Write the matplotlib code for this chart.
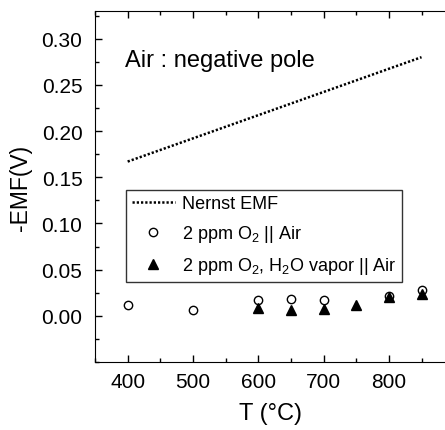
import matplotlib
matplotlib.use("Agg")
import matplotlib.pyplot as plt
from matplotlib.ticker import MultipleLocator

plt.rcParams['font.family'] = ['Liberation Sans', 'DejaVu Sans']
plt.rcParams['mathtext.fontset'] = 'custom'
plt.rcParams['mathtext.rm'] = 'Liberation Sans'

# Nernst EMF line
nernst_T = [400, 850]
nernst_emf = [0.167, 0.280]

# 2 ppm O2 || Air
dry_T = [400, 500, 600, 650, 700, 800, 850]
dry_emf = [0.012, 0.0065, 0.017, 0.018, 0.017, 0.021, 0.028]

# 2 ppm O2, H2O vapor || Air
wet_T = [600, 650, 700, 750, 800, 850]
wet_emf = [0.0085, 0.006, 0.007, 0.012, 0.020, 0.024]

yticks = [0.00, 0.05, 0.10, 0.15, 0.20, 0.25, 0.30]
xticks = [400, 500, 600, 700, 800]

W, H = 445, 431
fig = plt.figure(figsize=(W / 100, H / 100), dpi=100)
ax = fig.add_axes([95 / W, (H - 363) / H, (W - 95) / W + 0.003, (363 - 12) / H])

ax.plot(nernst_T, nernst_emf, ls=(0, (0.9, 0.8)), color='black', lw=1.8,
        dash_capstyle='butt', label='Nernst EMF')
ax.plot(dry_T, dry_emf, 'o', mfc='white', mec='black', mew=1.0, ms=6,
        ls='none', label=r'2 ppm O$_2$ || Air')
ax.plot(wet_T, wet_emf, '^', color='black', ms=6.5, ls='none',
        label=r'2 ppm O$_2$, H$_2$O vapor || Air')

ax.set_xlim(350, 888)
ax.set_ylim(-0.05, 0.33)
ax.set_xticks(xticks)
ax.set_yticks(yticks)
ax.xaxis.set_minor_locator(MultipleLocator(50))
ax.yaxis.set_minor_locator(MultipleLocator(0.025))
ax.tick_params(which='both', direction='in', top=True, right=False, labelsize=15)
ax.tick_params(axis='y', pad=9)
ax.tick_params(axis='x', pad=7)
ax.tick_params(which='major', length=5, width=1)
ax.tick_params(which='minor', length=3, width=1)
ax.yaxis.set_major_formatter(plt.FormatStrFormatter('%.2f'))
ax.spines['right'].set_visible(False)

ax.set_xlabel('T (°C)', fontsize=17, labelpad=8)
ax.set_ylabel('-EMF(V)', fontsize=16.5, labelpad=7)

ax.text(396, 0.277, 'Air : negative pole', fontsize=17, va='center', ha='left')

leg = ax.legend(loc='upper left', bbox_to_anchor=(0.089, 0.49), borderaxespad=0,
                fontsize=13, frameon=True, fancybox=False, edgecolor='black',
                handlelength=2.4, handletextpad=0.4, labelspacing=0.6, borderpad=0.3)
leg.get_frame().set_linewidth(1.0)

fig.savefig('out.png', dpi=100)
